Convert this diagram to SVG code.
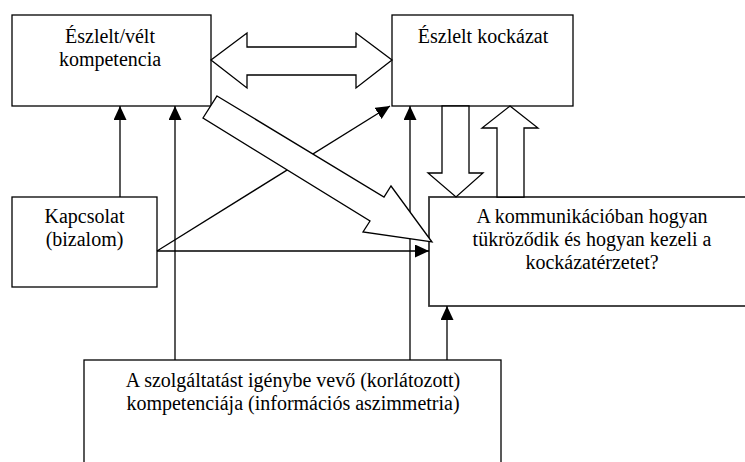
<svg xmlns="http://www.w3.org/2000/svg" width="745" height="462" viewBox="0 0 745 462">
<style>
.box{fill:#fff;stroke:#000;stroke-width:1.3}
.box4{fill:#fff;stroke:#333;stroke-width:1.8}
.t{font-size:20px;fill:#000;text-anchor:middle}
.ln{fill:none;stroke:#000;stroke-width:1.3}
.hollow{fill:#fff;stroke:#000;stroke-width:1.3;stroke-linejoin:miter}
</style>
<defs>
<marker id="ah" markerUnits="userSpaceOnUse" markerWidth="15" markerHeight="14" refX="14" refY="6.5" orient="auto">
<path d="M0,0 L14,6.5 L0,13 z" fill="#000"/>
</marker>
</defs>
<rect width="745" height="462" fill="#fff"/>
<g font-family="'Liberation Serif', 'DejaVu Serif', serif">
<g id="n-kompetencia">
<rect class="box" x="12" y="15" width="199" height="91"/>
<text class="t" x="110" y="43">Észlelt/vélt</text>
<text class="t" x="110" y="66">kompetencia</text>
</g>
<g id="n-kockazat">
<rect class="box" x="392" y="15" width="181" height="91"/>
<text class="t" x="483" y="43">Észlelt kockázat</text>
</g>
<g id="n-kapcsolat">
<rect class="box" x="12" y="197" width="145" height="90"/>
<text class="t" x="84.5" y="223">Kapcsolat</text>
<text class="t" x="84.5" y="246">(bizalom)</text>
</g>
<g id="n-kommunikacio">
<rect class="box4" x="429" y="197" width="330" height="109"/>
<text class="t" x="592" y="223">A kommunikációban hogyan</text>
<text class="t" x="592" y="246">tükröződik és hogyan kezeli a</text>
<text class="t" x="592" y="269">kockázatérzetet?</text>
</g>
<g id="n-szolgaltatas">
<rect class="box" x="84" y="360" width="417" height="120"/>
<text class="t" x="293" y="387">A szolgáltatást igénybe vevő (korlátozott)</text>
<text class="t" x="293" y="410">kompetenciája (információs aszimmetria)</text>
</g>
</g>
<g id="connectors">
<line class="ln" x1="120" y1="197" x2="120" y2="106" marker-end="url(#ah)"/>
<line class="ln" x1="175" y1="360" x2="175" y2="106" marker-end="url(#ah)"/>
<line class="ln" x1="410" y1="360" x2="410" y2="106" marker-end="url(#ah)"/>
<line class="ln" x1="447" y1="360" x2="447" y2="306" marker-end="url(#ah)"/>
<line class="ln" x1="157" y1="251" x2="429" y2="251" marker-end="url(#ah)"/>
<line class="ln" x1="157" y1="251" x2="390" y2="106" marker-end="url(#ah)"/>
<polygon class="hollow" points="211,60 247,33 247,47 356,47 356,33 392,60 356,88 356,75 247,75 247,88"/>
<polygon class="hollow" points="442,106 469,106 469,173 483,173 456,197 428,173 442,173"/>
<polygon class="hollow" points="510,106 538,128 524,128 524,197 497,197 497,128 482,128"/>
<polygon class="hollow" points="217,96 384,197 391,186 432,242 363,232 370,221 203,118"/>
</g>
</svg>
